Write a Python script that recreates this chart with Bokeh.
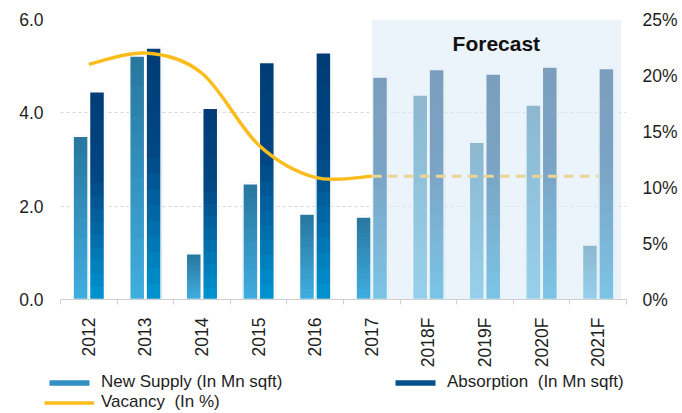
import math
from bokeh.plotting import figure
from bokeh.models import (Range1d, LinearAxis, FixedTicker, PrintfTickFormatter,
                          Legend, LegendItem, CustomJSTickFormatter)
from bokeh.embed import file_html
from bokeh.resources import INLINE
from bokeh.core.properties import value

# ---------------- data ----------------
years = ["2012", "2013", "2014", "2015", "2016", "2017", "2018F", "2019F", "2020F", "2021F"]
new_supply = [3.50, 5.22, 0.98, 2.48, 1.83, 1.77, 4.38, 3.37, 4.17, 1.17]
absorption = [4.45, 5.39, 4.10, 5.08, 5.29, 4.77, 4.93, 4.83, 4.98, 4.95]
vacancy_years = ["2012", "2013", "2014", "2015", "2016", "2017"]
vacancy = [21.0, 22.0, 20.2, 13.8, 10.9, 11.0]
vacancy_fc_years = ["2017", "2018F", "2019F", "2020F", "2021F"]
vacancy_fc = [11.0, 11.0, 11.0, 11.0, 11.0]
left_ticks = [0, 2, 4, 6]
right_ticks = [0, 5, 10, 15, 20, 25]

FONT = "Liberation Sans"
GOLD = "#FBBC1C"
TXT = "#1e1e1e"

# ---------------- helpers ----------------
def lerp_color(stops, t):
    for (t0, c0), (t1, c1) in zip(stops[:-1], stops[1:]):
        if t0 <= t <= t1:
            f = (t - t0) / (t1 - t0) if t1 > t0 else 0
            c = [round(a + (b - a) * f) for a, b in zip(c0, c1)]
            return "#%02x%02x%02x" % tuple(c)
    c = stops[-1][1]
    return "#%02x%02x%02x" % tuple(c)

ns_stops = [(0.0, (40, 118, 158)), (1.0, (64, 174, 224))]
abs_stops = [(0.0, (0, 60, 118)), (0.4, (0, 70, 130)), (1.0, (0, 148, 210))]

idx = {y: i for i, y in enumerate(years)}
xc = [i + 0.5 for i in range(len(years))]
BW = 0.265
OFF = 0.145
ns_x = [c - OFF for c in xc]
ab_x = [c + OFF for c in xc]

p = figure(width=682, height=370, x_range=Range1d(0, len(years)), y_range=Range1d(0, 6),
           output_backend="svg", toolbar_location=None,
           min_border_left=60, min_border_right=56, min_border_top=19, min_border_bottom=70)
p.outline_line_color = None
p.background_fill_color = "white"
p.border_fill_color = "white"
p.extra_y_ranges = {"vac": Range1d(0, 25)}

# grid
p.xgrid.visible = False
p.ygrid.ticker = FixedTicker(ticks=left_ticks)
p.ygrid.grid_line_color = "#d6d6d6"
p.ygrid.grid_line_dash = "3 3"
p.ygrid.grid_line_width = 1

# bars: shadows
p.vbar(x=[x + 0.012 for x in ns_x], width=BW + 0.03, bottom=0, top=[v + 0.03 for v in new_supply],
       fill_color="black", fill_alpha=0.05, line_color=None)
p.vbar(x=[x + 0.012 for x in ab_x], width=BW + 0.03, bottom=0, top=[v + 0.03 for v in absorption],
       fill_color="black", fill_alpha=0.05, line_color=None)

# bars: vertical gradient (drawn as nested bars, tallest first)
NSEG = 16
for k in range(NSEG - 1, -1, -1):
    t = 1 - (k + 0.5) / NSEG
    p.vbar(x=ns_x, width=BW, bottom=0, top=[v * (k + 1) / NSEG for v in new_supply],
           fill_color=lerp_color(ns_stops, t), line_color=None)
    p.vbar(x=ab_x, width=BW, bottom=0, top=[v * (k + 1) / NSEG for v in absorption],
           fill_color=lerp_color(abs_stops, t), line_color=None)

# white outlines
p.vbar(x=ns_x, width=BW, bottom=0, top=new_supply, fill_color=None, line_color="white", line_width=1.5)
p.vbar(x=ab_x, width=BW, bottom=0, top=absorption, fill_color=None, line_color="white", line_width=1.5)

# vacancy: smooth curve through the points (Catmull-Rom -> cubic Bezier)
vx = [xc[idx[y]] for y in vacancy_years]
vy = vacancy
n = len(vx)
x0s, y0s, x1s, y1s, cx0s, cy0s, cx1s, cy1s = [], [], [], [], [], [], [], []
for i in range(n - 1):
    pxm, pym = (vx[i - 1], vy[i - 1]) if i > 0 else (vx[i], vy[i])
    pxp, pyp = (vx[i + 2], vy[i + 2]) if i + 2 < n else (vx[i + 1], vy[i + 1])
    x0s.append(vx[i]); y0s.append(vy[i]); x1s.append(vx[i + 1]); y1s.append(vy[i + 1])
    cx0s.append(vx[i] + (vx[i + 1] - pxm) / 6); cy0s.append(vy[i] + (vy[i + 1] - pym) / 6)
    cx1s.append(vx[i + 1] - (pxp - vx[i]) / 6); cy1s.append(vy[i + 1] - (pyp - vy[i]) / 6)
p.bezier(x0=x0s, y0=y0s, x1=x1s, y1=y1s, cx0=cx0s, cy0=cy0s, cx1=cx1s, cy1=cy1s,
         y_range_name="vac", line_color=GOLD, line_width=3.5)

# vacancy forecast (dashed)
p.line(x=[xc[idx[y]] for y in vacancy_fc_years], y=vacancy_fc, y_range_name="vac",
       line_color=GOLD, line_width=3, line_dash="10 6")

# forecast wash overlay
fc_left = xc[idx["2017"]]
fc_right = len(years) - 0.1
p.quad(left=[fc_left], right=[fc_right], bottom=[0], top=[6],
       fill_color="#dcecf6", fill_alpha=0.56, line_color=None)
p.text(x=[(fc_left + fc_right) / 2], y=[5.49], text=["Forecast"],
       text_font=value(FONT), text_font_style="bold", text_font_size="21px",
       text_align="center", text_baseline="middle", text_color="#111111")

# axes
p.yaxis.ticker = FixedTicker(ticks=left_ticks)
p.yaxis.formatter = PrintfTickFormatter(format="%.1f")
p.yaxis.axis_line_color = None
p.yaxis.major_tick_out = 0
p.yaxis.major_tick_in = 0
p.yaxis.minor_tick_out = 0
p.yaxis.minor_tick_in = 0
p.yaxis.major_label_standoff = 17
p.yaxis.major_label_text_font = FONT
p.yaxis.major_label_text_font_size = "17.5px"
p.yaxis.major_label_text_color = TXT

ax_r = LinearAxis(y_range_name="vac", ticker=FixedTicker(ticks=right_ticks),
                  formatter=PrintfTickFormatter(format="%d%%"))
ax_r.axis_line_color = None
ax_r.major_tick_out = 0
ax_r.major_tick_in = 0
ax_r.minor_tick_out = 0
ax_r.minor_tick_in = 0
ax_r.major_label_standoff = 16
ax_r.major_label_text_font = FONT
ax_r.major_label_text_font_size = "17.5px"
ax_r.major_label_text_color = TXT
p.add_layout(ax_r, "right")

p.xaxis.ticker = FixedTicker(ticks=xc, minor_ticks=list(range(len(years) + 1)))
p.xaxis.formatter = CustomJSTickFormatter(args=dict(labels=years),
                                          code="return labels[Math.floor(tick)] || '';")
p.xaxis.major_label_orientation = math.pi / 2
p.xaxis.axis_line_color = "#cfcfcf"
p.xaxis.major_tick_out = 0
p.xaxis.major_tick_in = 0
p.xaxis.minor_tick_out = 5
p.xaxis.minor_tick_in = 0
p.xaxis.minor_tick_line_color = "#cfcfcf"
p.xaxis.major_label_standoff = 13
p.xaxis.major_label_text_font = FONT
p.xaxis.major_label_text_font_size = "17.5px"
p.xaxis.major_label_text_color = TXT

# ---------------- legend strip (separate root, frame spans full width) ----------------
p2 = figure(width=682, height=43, x_range=Range1d(0, 1), y_range=Range1d(0, 1),
            output_backend="svg", toolbar_location=None,
            x_axis_location=None, y_axis_location=None,
            min_border_left=0, min_border_right=0, min_border_top=0, min_border_bottom=0)
p2.outline_line_color = None
p2.xgrid.visible = False
p2.ygrid.visible = False

# hidden proxy renderers carrying the series (only their legend swatches are shown)
r_ns = p2.vbar(x=xc, top=new_supply, width=0.2, fill_color="#3390c2", line_color=None, visible=False)
r_ab = p2.vbar(x=xc, top=absorption, width=0.2, fill_color="#06508c", line_color=None, visible=False)
r_vac = p2.line(x=vx, y=vacancy, line_color=GOLD, line_width=3.5, visible=False)

def make_legend(items, loc):
    lg = Legend(items=items, location=loc, orientation="vertical")
    lg.label_text_font = FONT
    lg.label_text_font_size = "17px"
    lg.label_text_color = TXT
    lg.label_height = 20
    lg.glyph_height = 7
    lg.glyph_width = 50
    lg.label_standoff = 7
    lg.padding = 0
    lg.margin = 0
    lg.spacing = 0
    lg.border_line_color = None
    lg.background_fill_alpha = 0
    lg.inactive_fill_alpha = 0
    lg.click_policy = "none"
    return lg

leg1 = make_legend([LegendItem(label="New Supply (In Mn sqft)", renderers=[r_ns]),
                    LegendItem(label="Vacancy  (In %)", renderers=[r_vac])], (44, 1))
leg2 = make_legend([LegendItem(label="Absorption  (In Mn sqft)", renderers=[r_ab])], (390, 21))
p2.add_layout(leg1)
p2.add_layout(leg2)

open("out.html", "w").write(file_html([p, p2], INLINE))
